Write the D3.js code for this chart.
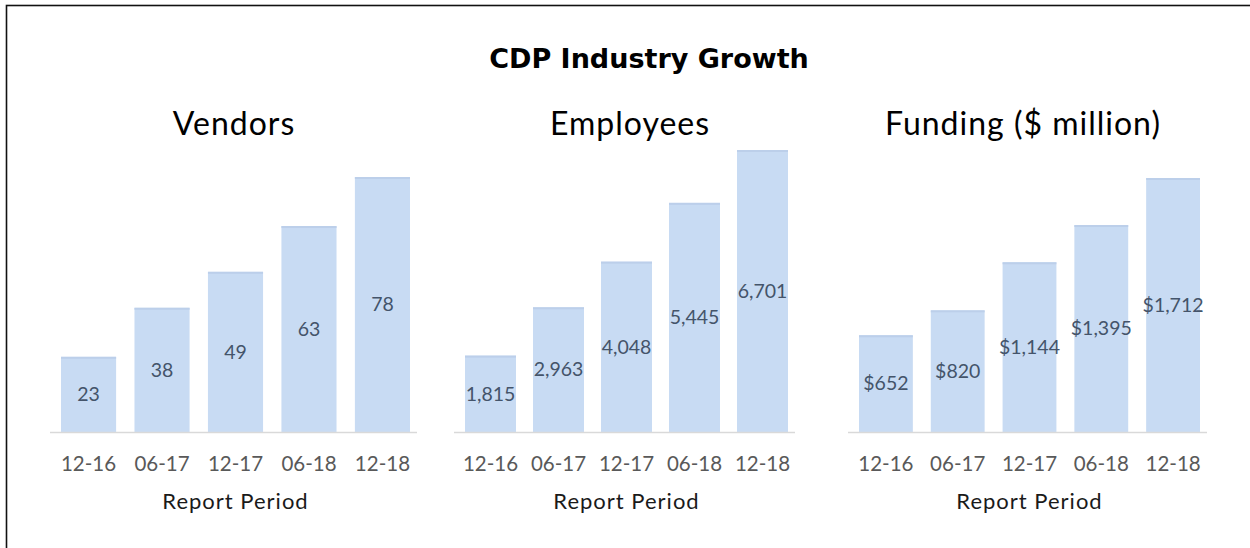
<!DOCTYPE html>
<html><head><meta charset="utf-8">
<script src="https://cdn.jsdelivr.net/npm/d3@7"></script>
<style>html,body{margin:0;padding:0;background:#fff;} svg{display:block;}</style>
</head><body>
<svg id="c" width="1250" height="548"></svg>
<script>
const periods = ["12-16", "06-17", "12-17", "06-18", "12-18"];
const vendors = [23, 38, 49, 63, 78];
const employees = [1815, 2963, 4048, 5445, 6701];
const funding = [652, 820, 1144, 1395, 1712];
const chartTitle = "CDP Industry Growth";
const panelTitles = ["Vendors", "Employees", "Funding ($ million)"];
const axisTitle = "Report Period";

const fmtComma = d3.format(",");
const panels = [
  {title: panelTitles[0], values: vendors, fmt: d => String(d), xr: [61, 410], top: 177, tx: 234},
  {title: panelTitles[1], values: employees, fmt: d => fmtComma(d), xr: [465, 788], top: 150, tx: 630},
  {title: panelTitles[2], values: funding, fmt: d => "$" + fmtComma(d), xr: [859, 1200], top: 178, tx: 1023}
];
const baseY = 432;
const FONT = "Lato, 'Open Sans', sans-serif";

const svg = d3.select("#c");
svg.append("rect").attr("x", 6.5).attr("y", 5.5).attr("width", 1300).attr("height", 600)
  .attr("fill", "#fff").attr("stroke", "#111").attr("stroke-width", 1.6);

svg.append("text").attr("x", 649).attr("y", 67.5).attr("text-anchor", "middle")
  .attr("font-family", "'DejaVu Sans', sans-serif").attr("font-weight", 700).attr("font-size", 27)
  .attr("fill", "#000").text(chartTitle);

panels.forEach(p => {
  const g = svg.append("g");
  const x = d3.scaleBand().domain(periods).range(p.xr).paddingInner(0.25).paddingOuter(0);
  const maxV = d3.max(p.values);
  const y = d3.scaleLinear().domain([0, maxV]).range([baseY, p.top]);

  g.append("text").attr("x", p.tx).attr("y", 135).attr("text-anchor", "middle")
    .attr("font-family", FONT).attr("font-size", 32).attr("letter-spacing", 1)
    .attr("fill", "#000").text(p.title);

  const data = periods.map((k, i) => ({k, v: p.values[i]}));
  g.selectAll("rect.bar").data(data).join("rect").attr("class", "bar")
    .attr("x", d => x(d.k)).attr("width", x.bandwidth())
    .attr("y", d => y(d.v)).attr("height", d => y(0) - y(d.v))
    .attr("fill", "#c8dbf3");
  g.selectAll("rect.topedge").data(data).join("rect").attr("class", "topedge")
    .attr("x", d => x(d.k)).attr("width", x.bandwidth())
    .attr("y", d => y(d.v)).attr("height", 2)
    .attr("fill", "#bccfea");

  g.selectAll("text.val").data(data).join("text").attr("class", "val")
    .attr("x", d => x(d.k) + x.bandwidth() / 2)
    .attr("y", d => (y(d.v) + y(0)) / 2)
    .attr("dy", "0.35em").attr("text-anchor", "middle")
    .attr("font-family", FONT).attr("font-size", 19.5).attr("fill", "#44546a")
    .text(d => p.fmt(d.v));

  const axis = d3.axisBottom(x).tickSize(0).tickPadding(0);
  const ag = g.append("g").attr("transform", `translate(0,${baseY})`).call(axis);
  ag.select(".domain").remove();
  ag.append("line").attr("x1", p.xr[0] - 11).attr("x2", p.xr[1] + 7)
    .attr("y1", 0.5).attr("y2", 0.5).attr("stroke", "#d9d9d9").attr("stroke-width", 1.5);
  ag.selectAll(".tick text").attr("y", 39).attr("dy", 0)
    .attr("font-family", FONT).attr("font-size", 20.5).attr("fill", "#595959");

  g.append("text").attr("x", (p.xr[0] + p.xr[1]) / 2).attr("y", 509).attr("text-anchor", "middle")
    .attr("font-family", FONT).attr("font-size", 22).attr("letter-spacing", 1)
    .attr("fill", "#1a1a1a").text(axisTitle);
});
</script>
</body></html>
